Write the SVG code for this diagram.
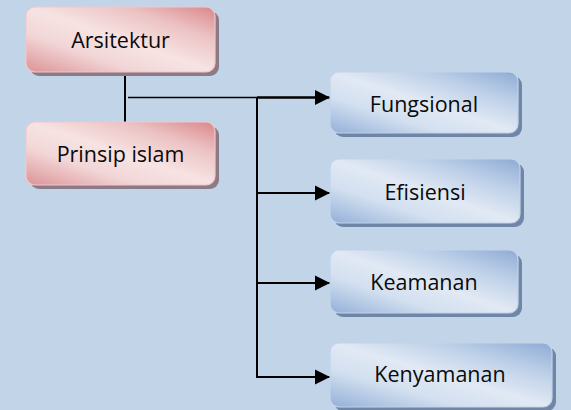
<svg xmlns="http://www.w3.org/2000/svg" width="571" height="410" viewBox="0 0 571 410">
<style>
.lbl{font-family:"Open Sans","Liberation Sans",sans-serif;font-size:21.5px;fill:#0a0a0a;text-anchor:middle}
.pink{fill:url(#gp);stroke:#f0c8c9;stroke-width:1.2}
.blue{fill:url(#gb);stroke:#c4d4ea;stroke-width:1.2}
.ps{fill:#8c7b86}
.bs{fill:#6f86a6}
.c{stroke:#000;fill:none}
</style>
<defs>
<linearGradient id="gp" x1="0" y1="1" x2="1" y2="0">
<stop offset="0" stop-color="#dc9296"/>
<stop offset="0.3" stop-color="#f2d6d7"/>
<stop offset="0.5" stop-color="#f7e3e3"/>
<stop offset="0.75" stop-color="#ecc3c4"/>
<stop offset="1" stop-color="#d9878b"/>
</linearGradient>
<linearGradient id="gb" x1="0" y1="1" x2="1" y2="0">
<stop offset="0" stop-color="#93b0d8"/>
<stop offset="0.3" stop-color="#d3e0f0"/>
<stop offset="0.5" stop-color="#e1e9f4"/>
<stop offset="0.75" stop-color="#bccfe8"/>
<stop offset="1" stop-color="#8eaad4"/>
</linearGradient>
<marker id="ah" markerUnits="userSpaceOnUse" markerWidth="18" markerHeight="18" refX="16" refY="9" orient="auto">
<path d="M1,1.5 L16,9 L1,16.5 Z" fill="#000"/>
</marker>
</defs>
<rect width="571" height="410" fill="#c2d4e8"/>
<g id="connectors">
<line class="c" x1="125" y1="72" x2="125" y2="122" stroke-width="2"/>
<line class="c" x1="128" y1="97.5" x2="257" y2="97.5" stroke-width="1.6"/>
<line class="c" x1="257" y1="97.5" x2="330" y2="97.5" stroke-width="2.6" marker-end="url(#ah)"/>
<line class="c" x1="257" y1="97" x2="257" y2="378" stroke-width="2"/>
<line class="c" x1="257" y1="193" x2="330" y2="193" stroke-width="2" marker-end="url(#ah)"/>
<line class="c" x1="257" y1="283" x2="330" y2="283" stroke-width="2" marker-end="url(#ah)"/>
<line class="c" x1="257" y1="377" x2="330" y2="377" stroke-width="2" marker-end="url(#ah)"/>
</g>
<g id="arsitektur">
<rect class="ps" x="30" y="11" width="189" height="65" rx="9"/>
<rect class="pink" x="26" y="7" width="189" height="65" rx="9"/>
<text class="lbl" x="120.5" y="47.5">Arsitektur</text>
</g>
<g id="prinsip-islam">
<rect class="ps" x="30" y="126" width="189" height="63" rx="9"/>
<rect class="pink" x="26" y="122" width="189" height="63" rx="9"/>
<text class="lbl" x="120.5" y="162">Prinsip islam</text>
</g>
<g id="fungsional">
<rect class="bs" x="334" y="76" width="188" height="61" rx="9"/>
<rect class="blue" x="330" y="72" width="188" height="61" rx="9"/>
<text class="lbl" x="424" y="111.5">Fungsional</text>
</g>
<g id="efisiensi">
<rect class="bs" x="334" y="163" width="190" height="64" rx="9"/>
<rect class="blue" x="330" y="159" width="190" height="64" rx="9"/>
<text class="lbl" x="425" y="200">Efisiensi</text>
</g>
<g id="keamanan">
<rect class="bs" x="334" y="254" width="188" height="63" rx="9"/>
<rect class="blue" x="330" y="250" width="188" height="63" rx="9"/>
<text class="lbl" x="424" y="290">Keamanan</text>
</g>
<g id="kenyamanan">
<rect class="bs" x="334" y="347" width="222" height="64" rx="9"/>
<rect class="blue" x="330" y="343" width="222" height="64" rx="9"/>
<text class="lbl" x="440" y="381.5">Kenyamanan</text>
</g>
</svg>
